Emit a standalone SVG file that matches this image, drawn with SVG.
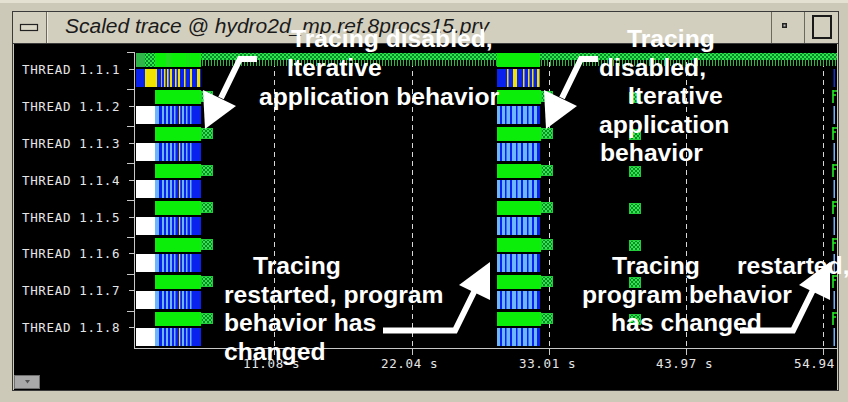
<svg xmlns="http://www.w3.org/2000/svg" width="848" height="402" viewBox="0 0 848 402">
<style>
.lbl{font-family:"DejaVu Sans Mono","Liberation Mono",monospace;font-size:12.5px;letter-spacing:0.65px;fill:#e6e6e6}
.ann{font-family:"Liberation Sans",Arial,sans-serif;font-weight:bold;font-size:24.7px;fill:#ffffff}
.g{fill:#0aee0a}
.b{fill:#0a22ee}
.lb{fill:#6cb6ff}
.y{fill:#f2e200}
.dash{stroke:#d8d8d8;stroke-width:1;stroke-dasharray:5 4;fill:none}
.ax{stroke:#c8c8c8;stroke-width:1;fill:none}
.arr{fill:none;stroke:#ffffff;stroke-width:6;stroke-linejoin:miter}
.head{fill:#ffffff}
.sep{stroke:#6b685c;stroke-width:1}
</style>
<defs>
<pattern id="chk" width="4" height="4" patternUnits="userSpaceOnUse"><rect width="4" height="4" fill="#0a8a2c"/><rect width="2" height="2" fill="#2ee84a"/><rect x="2" y="2" width="2" height="2" fill="#2ee84a"/></pattern>
<pattern id="ticks" width="3" height="6" patternUnits="userSpaceOnUse"><rect x="1" width="1" height="6" fill="#22c038"/></pattern>
<g id="flag"><rect x="0.5" y="0.5" width="11" height="10" fill="url(#chk)" stroke="#22cc3a"/></g>
<g id="fflag"><path d="M1 0V13M1 1H5M1 5H4" stroke="#22ee22" stroke-width="1.6" fill="none"/></g>
<g id="b1row">
<rect x="136" width="19" height="18" fill="#ffffff"/>
<rect x="155" width="46" height="18" class="b"/>
<rect x="155" width="4" height="18" class="lb"/>
<rect x="162" width="2" height="18" class="lb"/>
<rect x="166" width="2" height="18" class="lb"/>
<rect x="170" width="2" height="18" class="lb"/>
<rect x="174" width="1.5" height="18" class="lb"/>
<rect x="182" width="2" height="18" class="lb"/>
<rect x="186" width="1.5" height="18" class="lb"/>
<rect x="190" width="1.5" height="18" class="lb"/>
<rect x="179" width="1.2" height="18" class="y"/>
</g>
<g id="b2row">
<rect x="497" width="43" height="18" class="lb"/>
<rect x="500" width="2" height="18" class="b"/>
<rect x="505" width="1.5" height="18" class="b"/>
<rect x="510" width="2" height="18" class="b"/>
<rect x="516" width="1.5" height="18" class="b"/>
<rect x="521" width="2" height="18" class="b"/>
<rect x="527" width="1.5" height="18" class="b"/>
<rect x="532" width="2" height="18" class="b"/>
<rect x="537" width="3" height="18" class="b"/>
</g>
</defs>

<g id="window-frame">
<rect width="848" height="402" fill="#cdc9b8"/>
<rect width="848" height="3" fill="#e4e0d2"/>
<rect x="12.5" y="11.5" width="826" height="379" fill="none" stroke="#3a3a3a"/>
<rect x="13" y="12" width="825" height="31" fill="#d3cfbe"/>
<line x1="13" y1="43.5" x2="838" y2="43.5" stroke="#3a3a3a"/>
<line class="sep" x1="46.5" y1="12" x2="46.5" y2="43"/>
<line x1="47.5" y1="12" x2="47.5" y2="43" stroke="#eeeadc"/>
<rect x="20.5" y="24.5" width="17" height="6" fill="#dcd8c8" stroke="#222" stroke-width="1.2"/>
<line class="sep" x1="771.5" y1="12" x2="771.5" y2="43"/>
<line class="sep" x1="804.5" y1="12" x2="804.5" y2="43"/>
<rect x="782" y="23" width="5" height="5" fill="#222"/>
<rect x="783.5" y="24.5" width="2" height="2" fill="#bbb"/>
<rect x="813" y="16" width="18" height="22" fill="none" stroke="#1a1a1a" stroke-width="2"/>
<text x="65" y="33" font-family="'Liberation Sans',Arial,sans-serif" font-style="italic" font-size="20.5" fill="#1a1a1a" textLength="424" lengthAdjust="spacingAndGlyphs">Scaled trace @ hydro2d_mp.ref.8procs15.prv</text>
<rect x="14" y="44" width="823" height="346" fill="#000"/>
<rect x="14.5" y="375.5" width="25" height="13" fill="#a9a9a9" stroke="#6e6e6e"/>
<polygon points="25,380 30,380 27.5,383.5" fill="#555"/>
</g>

<g id="grid">
<line class="dash" x1="274.5" y1="53" x2="274.5" y2="348"/>
<line class="dash" x1="412.5" y1="53" x2="412.5" y2="348"/>
<line class="dash" x1="549.5" y1="53" x2="549.5" y2="348"/>
<line class="dash" x1="686.5" y1="53" x2="686.5" y2="348"/>
<line class="dash" x1="823.5" y1="53" x2="823.5" y2="348"/>
</g>

<g id="axes">
<line class="ax" x1="134.5" y1="52" x2="134.5" y2="348.5"/>
<line class="ax" x1="134" y1="348.5" x2="837" y2="348.5"/>
<path class="ax" d="M127 52.5H134M127 89.5H134M127 126.5H134M127 163.5H134M127 200.5H134M127 237.5H134M127 274.5H134M127 311.5H134M129 69.5H134M129 106.5H134M129 143.5H134M129 180.5H134M129 217.5H134M129 253.5H134M129 290.5H134M129 327.5H134"/>
<path class="ax" d="M274.5 348V355M412.5 348V355M549.5 348V355M686.5 348V355M823.5 348V355"/>
<text class="lbl" x="243" y="368">11.08 s</text>
<text class="lbl" x="381" y="368">22.04 s</text>
<text class="lbl" x="519" y="368">33.01 s</text>
<text class="lbl" x="656" y="368">43.97 s</text>
<text class="lbl" x="794" y="368">54.94</text>
</g>

<g id="thread-labels">
<text class="lbl" x="22" y="74">THREAD 1.1.1</text>
<text class="lbl" x="22" y="111">THREAD 1.1.2</text>
<text class="lbl" x="22" y="148">THREAD 1.1.3</text>
<text class="lbl" x="22" y="185">THREAD 1.1.4</text>
<text class="lbl" x="22" y="222">THREAD 1.1.5</text>
<text class="lbl" x="22" y="258">THREAD 1.1.6</text>
<text class="lbl" x="22" y="295">THREAD 1.1.7</text>
<text class="lbl" x="22" y="332">THREAD 1.1.8</text>
</g>

<g id="thread-1">
<rect x="136" y="53" width="9" height="14" fill="#2fb54a"/>
<rect x="145" y="53" width="10" height="14" fill="url(#chk)"/>
<rect x="155" y="53" width="46" height="14" class="g"/>
<rect x="166" y="53" width="5" height="14" fill="#22dd22"/>
<rect x="186" y="53" width="4" height="14" fill="#14e414"/>
<rect x="201" y="53" width="296" height="7" fill="url(#chk)"/>
<rect x="201" y="60" width="296" height="6" fill="url(#ticks)"/>
<rect x="497" y="53" width="43" height="14" class="g"/>
<rect x="540" y="53" width="297" height="7" fill="url(#chk)"/>
<rect x="540" y="60" width="297" height="6" fill="url(#ticks)"/>
<rect x="136" y="69" width="65" height="18" class="b"/>
<rect x="145" y="69" width="12" height="18" class="y"/>
<rect x="161" y="69" width="1" height="18" fill="#b0b060"/>
<rect x="164" y="69" width="1.5" height="18" class="y"/>
<rect x="167" y="69" width="1.5" height="18" class="y"/>
<rect x="170" y="69" width="2" height="18" class="y"/>
<rect x="175" y="69" width="1.5" height="18" class="y"/>
<rect x="178" y="69" width="2" height="18" class="y"/>
<rect x="184" y="69" width="1.5" height="18" class="y"/>
<rect x="190" y="69" width="2" height="18" class="y"/>
<rect x="197" y="69" width="3" height="18" class="y"/>
<rect x="497" y="69" width="43" height="18" class="b"/>
<rect x="507" y="69" width="1.5" height="18" class="y"/>
<rect x="513" y="69" width="4" height="18" class="y"/>
<rect x="523" y="69" width="1.5" height="18" class="y"/>
<rect x="528" y="69" width="1.5" height="18" class="y"/>
<rect x="532" y="69" width="1.5" height="18" class="y"/>
<rect x="537" y="69" width="2.5" height="18" class="y"/>
<rect x="833.5" y="69" width="1.5" height="18" fill="#1030d0"/>
</g>

<g id="threads-2-8">
<rect x="155" y="90" width="46" height="14" class="g"/><use href="#flag" x="201" y="91"/><use href="#b1row" y="106"/>
<rect x="497" y="90" width="44" height="14" class="g"/><use href="#flag" x="541" y="91"/><use href="#b2row" y="106"/>
<use href="#flag" x="629" y="92"/><use href="#fflag" x="832" y="90"/><rect x="833.5" y="106" width="1.5" height="18" class="lb"/>

<rect x="155" y="127" width="46" height="14" class="g"/><use href="#flag" x="201" y="128"/><use href="#b1row" y="143"/>
<rect x="497" y="127" width="44" height="14" class="g"/><use href="#flag" x="541" y="128"/><use href="#b2row" y="143"/>
<use href="#flag" x="629" y="129"/><use href="#fflag" x="832" y="127"/><rect x="833.5" y="143" width="1.5" height="18" class="lb"/>

<rect x="155" y="164" width="46" height="14" class="g"/><use href="#flag" x="201" y="165"/><use href="#b1row" y="180"/>
<rect x="497" y="164" width="44" height="14" class="g"/><use href="#flag" x="541" y="165"/><use href="#b2row" y="180"/>
<use href="#flag" x="629" y="166"/><use href="#fflag" x="832" y="164"/><rect x="833.5" y="180" width="1.5" height="18" class="lb"/>

<rect x="155" y="201" width="46" height="14" class="g"/><use href="#flag" x="201" y="202"/><use href="#b1row" y="217"/>
<rect x="497" y="201" width="44" height="14" class="g"/><use href="#flag" x="541" y="202"/><use href="#b2row" y="217"/>
<use href="#flag" x="629" y="203"/><use href="#fflag" x="832" y="201"/><rect x="833.5" y="217" width="1.5" height="18" class="lb"/>

<rect x="155" y="238" width="46" height="14" class="g"/><use href="#flag" x="201" y="239"/><use href="#b1row" y="254"/>
<rect x="497" y="238" width="44" height="14" class="g"/><use href="#flag" x="541" y="239"/><use href="#b2row" y="254"/>
<use href="#flag" x="629" y="240"/><use href="#fflag" x="832" y="238"/><rect x="833.5" y="254" width="1.5" height="18" class="lb"/>

<rect x="155" y="275" width="46" height="14" class="g"/><use href="#flag" x="201" y="276"/><use href="#b1row" y="291"/>
<rect x="497" y="275" width="44" height="14" class="g"/><use href="#flag" x="541" y="276"/><use href="#b2row" y="291"/>
<use href="#flag" x="629" y="277"/><use href="#fflag" x="832" y="275"/><rect x="833.5" y="291" width="1.5" height="18" class="lb"/>

<rect x="155" y="312" width="46" height="14" class="g"/><use href="#flag" x="201" y="313"/><use href="#b1row" y="328"/>
<rect x="497" y="312" width="44" height="14" class="g"/><use href="#flag" x="541" y="313"/><use href="#b2row" y="328"/>
<use href="#flag" x="629" y="314"/><use href="#fflag" x="832" y="312"/><rect x="833.5" y="328" width="1.5" height="18" class="lb"/>
</g>

<g id="note-disabled-1">
<text class="ann" x="291" y="47">Tracing disabled,</text>
<text class="ann" x="287" y="76">Iterative</text>
<text class="ann" x="259" y="105">application behavior</text>
</g>
<g id="note-disabled-2">
<text class="ann" x="627" y="47">Tracing</text>
<text class="ann" x="599" y="75.5">disabled,</text>
<text class="ann" x="628" y="104">Iterative</text>
<text class="ann" x="599" y="132.5">application</text>
<text class="ann" x="600" y="161">behavior</text>
</g>
<g id="note-restarted-1">
<text class="ann" x="253" y="274">Tracing</text>
<text class="ann" x="224" y="303">restarted, program</text>
<text class="ann" x="224" y="331">behavior has</text>
<text class="ann" x="224" y="359.5">changed</text>
</g>
<g id="note-restarted-2">
<text class="ann" x="612" y="274">Tracing</text>
<text class="ann" x="737" y="274">restarted,</text>
<text class="ann" x="582" y="303">program behavior</text>
<text class="ann" x="611" y="331">has changed</text>
</g>

<g id="connectors">
<polyline class="arr" points="257,59 240,59 221,98"/>
<polygon class="head" points="203,90 236,106 205,129"/>
<polyline class="arr" points="598,59 581,59 562,98"/>
<polygon class="head" points="544,90 577,106 546,129"/>
<polyline class="arr" points="383,330.5 455,330.5 475,290"/>
<polygon class="head" points="459,285 490,262 490,300"/>
<polyline class="arr" points="740,330.5 793,330.5 813,290"/>
<polygon class="head" points="799,285 830,262 830,300"/>
</g>
</svg>
